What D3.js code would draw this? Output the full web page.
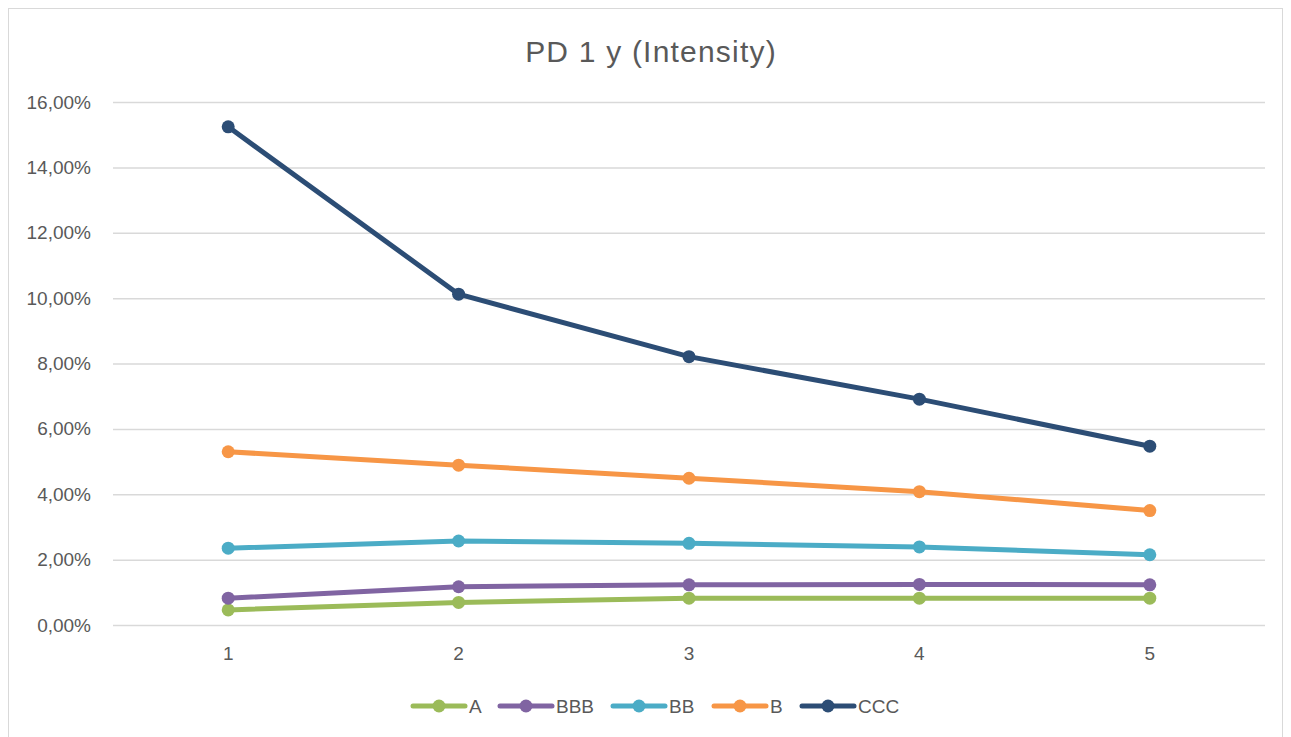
<!DOCTYPE html>
<html>
<head>
<meta charset="utf-8">
<script src="https://cdn.jsdelivr.net/npm/d3@7"></script>
<style>
  html, body { margin: 0; padding: 0; background: #fff; }
  svg { display: block; }
  text { font-family: "Liberation Sans", "DejaVu Sans", sans-serif; fill: #595959; }
</style>
</head>
<body>
<svg id="chart" width="1291" height="737"></svg>
<script>
// Rating-grade PD curves over a 5-year horizon
const years = [1, 2, 3, 4, 5];
const seriesNames = ["A", "BBB", "BB", "B", "CCC"];
const valuesA   = [0.0046, 0.0069, 0.0082, 0.0082, 0.0082];
const valuesBBB = [0.0082, 0.0117, 0.0123, 0.0124, 0.0123];
const valuesBB  = [0.0235, 0.0257, 0.0250, 0.0239, 0.0215];
const valuesB   = [0.0530, 0.0489, 0.0449, 0.0408, 0.0350];
const valuesCCC = [0.1524, 0.1012, 0.0821, 0.0691, 0.0547];
const yTicks = [0, 0.02, 0.04, 0.06, 0.08, 0.10, 0.12, 0.14, 0.16];
const colors = ["#9BBB59", "#8064A2", "#4BACC6", "#F79646", "#2C4D75"];

const series = [valuesA, valuesBBB, valuesBB, valuesB, valuesCCC].map((v, i) => ({
  name: seriesNames[i], color: colors[i], values: v
}));

const svg = d3.select("#chart");
const W = 1291, H = 737;

// outer chart frame
svg.append("rect")
  .attr("x", 8.5).attr("y", 8.5).attr("width", W - 17).attr("height", H - 8)
  .attr("fill", "#fff").attr("stroke", "#D9D9D9").attr("stroke-width", 1);

const plot = { left: 113, right: 1265, top: 102, bottom: 625 };

const x = d3.scaleBand().domain(years).range([plot.left, plot.right]);
const y = d3.scaleLinear().domain([0, 0.16]).range([plot.bottom, plot.top]);

// horizontal gridlines + percentage labels
const fmt = v => (v * 100).toFixed(2).replace(".", ",") + "%";
const yAxis = d3.axisLeft(y).tickValues(yTicks).tickFormat(fmt)
  .tickSize(-(plot.right - plot.left)).tickPadding(22);
const gy = svg.append("g").attr("transform", `translate(${plot.left},0)`).call(yAxis);
gy.select(".domain").remove();
gy.selectAll(".tick line").attr("stroke", "#D9D9D9").attr("stroke-width", 1.5);
gy.selectAll(".tick text").attr("font-size", 19).attr("fill", "#595959")
  .style("font-family", "Liberation Sans, sans-serif");

// category axis labels
const xAxis = d3.axisBottom(x).tickSize(0).tickPadding(22);
const gx = svg.append("g").attr("transform", `translate(0,${plot.bottom})`).call(xAxis);
gx.select(".domain").remove();
gx.selectAll(".tick text").attr("font-size", 19).attr("fill", "#595959")
  .style("font-family", "Liberation Sans, sans-serif");

// title
svg.append("text")
  .attr("x", 651).attr("y", 62)
  .attr("text-anchor", "middle")
  .attr("font-size", 30)
  .attr("letter-spacing", 1.2)
  .text("PD 1 y (Intensity)");

// series lines and markers
const cx = d => x(d) + x.bandwidth() / 2;
const line = d3.line().x((d, i) => cx(years[i])).y(d => y(d));

const gs = svg.append("g").selectAll("g").data(series).join("g");
gs.append("path")
  .attr("d", d => line(d.values))
  .attr("fill", "none")
  .attr("stroke", d => d.color)
  .attr("stroke-width", 5)
  .attr("stroke-linejoin", "round")
  .attr("stroke-linecap", "round");
gs.selectAll("circle").data(d => d.values.map((v, i) => ({ v, i, c: d.color })))
  .join("circle")
  .attr("cx", d => cx(years[d.i]))
  .attr("cy", d => y(d.v))
  .attr("r", 6.5)
  .attr("fill", d => d.c);

// legend
const legendX = [413, 500, 613, 714, 802];
const legendY = 706;
const lg = svg.append("g").selectAll("g").data(series).join("g")
  .attr("transform", (d, i) => `translate(${legendX[i]},${legendY})`);
lg.append("line")
  .attr("x1", 0).attr("x2", 52).attr("y1", 0).attr("y2", 0)
  .attr("stroke", d => d.color).attr("stroke-width", 5).attr("stroke-linecap", "round");
lg.append("circle").attr("cx", 26).attr("cy", 0).attr("r", 6.5).attr("fill", d => d.color);
lg.append("text")
  .attr("x", 56).attr("y", 0).attr("dy", "0.35em")
  .attr("font-size", 19)
  .text(d => d.name);
</script>
</body>
</html>
